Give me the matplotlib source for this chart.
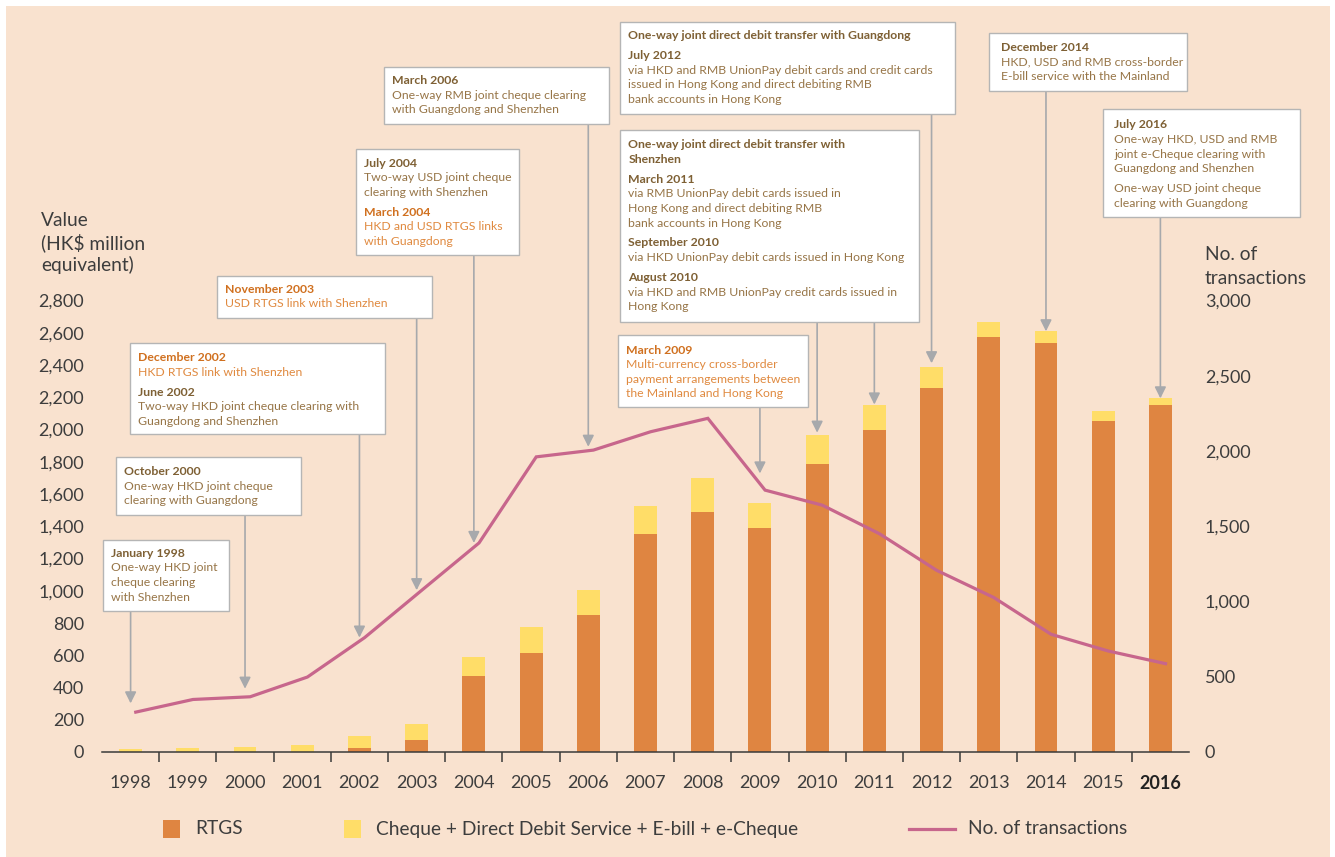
import matplotlib
matplotlib.use("Agg")
import matplotlib.pyplot as plt
from matplotlib.patches import Rectangle
from matplotlib.lines import Line2D
from matplotlib.transforms import blended_transform_factory
from matplotlib.ticker import FuncFormatter

# ---- data ----
YEARS = [str(y) for y in range(1998, 2017)]
RTGS = [0, 0, 0, 0, 25, 75, 472, 615, 851, 1354, 1491, 1391, 1789, 1994, 2255, 2571, 2534, 2050, 2155]
OTHER = [19, 27, 31, 43, 74, 99, 118, 161, 155, 174, 211, 156, 174, 161, 130, 94, 75, 62, 38]
TRANSACTIONS = [265, 349, 367, 498, 760, 1075, 1389, 1961, 2006, 2128, 2217, 1740, 1640, 1450,
                1207, 1026, 782, 671, 587]

LEGEND_LABELS = ["RTGS", "Cheque + Direct Debit Service + E-bill + e-Cheque", "No. of transactions"]

# milestone notes: (box in px: x0, y0, x1, y1), first line y, paragraphs of (style, text)
NOTES = [
    ((103, 540, 229, 611), 553.3, [[("hb", "January 1998"), ("b", "One-way HKD joint"),
                                    ("b", "cheque clearing"), ("b", "with Shenzhen")]]),
    ((116, 457, 300.5, 515), 471.7, [[("hb", "October 2000"), ("b", "One-way HKD joint cheque"),
                                      ("b", "clearing with Guangdong")]]),
    ((129.7, 342.7, 385.3, 434.3), 357.7, [[("ho", "December 2002"), ("o", "HKD RTGS link with Shenzhen")],
                                           [("hb", "June 2002"), ("b", "Two-way HKD joint cheque clearing with"),
                                            ("b", "Guangdong and Shenzhen")]]),
    ((216.7, 276, 431.8, 318.3), 289.3, [[("ho", "November 2003"), ("o", "USD RTGS link with Shenzhen")]]),
    ((356, 149, 519, 255), 163.3, [[("hb", "July 2004"), ("b", "Two-way USD joint cheque"),
                                    ("b", "clearing with Shenzhen")],
                                   [("ho", "March 2004"), ("o", "HKD and USD RTGS links"),
                                    ("o", "with Guangdong")]]),
    ((383.7, 66.7, 608.5, 124), 80.7, [[("hb", "March 2006"), ("b", "One-way RMB joint cheque clearing"),
                                        ("b", "with Guangdong and Shenzhen")]]),
    ((620, 21.7, 955, 114), 35.7, [[("hb", "One-way joint direct debit transfer with Guangdong")],
                                   [("hb", "July 2012"),
                                    ("b", "via HKD and RMB UnionPay debit cards and credit cards"),
                                    ("b", "issued in Hong Kong and direct debiting RMB"),
                                    ("b", "bank accounts in Hong Kong")]]),
    ((620, 130, 919, 321.7), 145, [[("hb", "One-way joint direct debit transfer with"), ("hb", "Shenzhen")],
                                   [("hb", "March 2011"), ("b", "via RMB UnionPay debit cards issued in"),
                                    ("b", "Hong Kong and direct debiting RMB"),
                                    ("b", "bank accounts in Hong Kong")],
                                   [("hb", "September 2010"),
                                    ("b", "via HKD UnionPay debit cards issued in Hong Kong")],
                                   [("hb", "August 2010"),
                                    ("b", "via HKD and RMB UnionPay credit cards issued in"),
                                    ("b", "Hong Kong")]]),
    ((618.3, 335, 808.3, 407.3), 350, [[("ho", "March 2009"), ("o", "Multi-currency cross-border"),
                                        ("o", "payment arrangements between"),
                                        ("o", "the Mainland and Hong Kong")]]),
    ((989.3, 33.3, 1186.7, 91), 47.7, [[("hb", "December 2014"), ("b", "HKD, USD and RMB cross-border"),
                                        ("b", "E-bill service with the Mainland")]]),
    ((1102.7, 109.3, 1300, 217.3), 125, [[("hb", "July 2016"), ("b", "One-way HKD, USD and RMB"),
                                          ("b", "joint e-Cheque clearing with"),
                                          ("b", "Guangdong and Shenzhen")],
                                         [("b", "One-way USD joint cheque"),
                                          ("b", "clearing with Guangdong")]]),
]

# arrows: year index, what it points at, gap (pt), box bottom (px)
ARROWS = [(0, "line", 6.3, 611), (2, "line", 5.8, 515), (4, "line", 0, 434.3), (5, "line", 0, 318.3),
          (6, "line", 0, 255), (8, "line", 2.4, 124), (11, "line", 12, 407.3), (12, "bar", 2, 321.7),
          (13, "bar", 0, 321.7), (14, "bar", 3, 114), (16, "bar", 0, 91), (18, "bar", 0, 217.3)]

W, H = 1335, 857
BG = "#F9E2CF"
C_RTGS = "#DF8541"
C_OTHER = "#FFDD68"
C_LINE = "#C7668C"
C_ARROW = "#A7A9AC"
C_TEXT = "#3D3D3D"
STYLES = {
    "hb": dict(color="#7E6034", fontweight="bold"),
    "b": dict(color="#977547", fontweight="normal"),
    "ho": dict(color="#D0701F", fontweight="bold"),
    "o": dict(color="#E08A40", fontweight="normal"),
}
NOTE_SIZE = 8.85
LINE_STEP = 14.6
PARA_STEP = 19.8
TICK_SIZE = 13
TITLE_SIZE = 13.8


def fx(px):
    return px / W


def fy(py):
    return 1 - py / H


plt.rcParams["font.family"] = ["Lato", "DejaVu Sans"]

fig = plt.figure(figsize=(W / 100, H / 100), dpi=100, facecolor="white")
fig.add_artist(Rectangle((fx(6), fy(H)), fx(1330) - fx(6), fy(6) - fy(H),
                         transform=fig.transFigure, facecolor=BG, edgecolor="none", zorder=-5))

ax = fig.add_axes([fx(102), fy(752), fx(1189) - fx(102), fy(300.5) - fy(752)])
ax2 = ax.twinx()
for a in (ax, ax2):
    a.patch.set_visible(False)
    for s in a.spines.values():
        s.set_visible(False)
ax.spines["bottom"].set_visible(True)
ax.spines["bottom"].set_color("#3A3A3A")
ax.spines["bottom"].set_linewidth(1.1)

x = list(range(len(YEARS)))
ax.bar(x, RTGS, width=0.4, color=C_RTGS, zorder=2)
ax.bar(x, OTHER, width=0.4, bottom=RTGS, color=C_OTHER, zorder=2)
ax2.plot([i + 0.09 for i in x], TRANSACTIONS, color=C_LINE, lw=2.3, solid_joinstyle="miter")

ax.set_xlim(-0.5, 18.5)
ax.set_ylim(0, 2800)
ax2.set_ylim(0, 3000)

ax.set_xticks(x)
ax.set_xticklabels(YEARS)
ax.set_xticks([i + 0.5 for i in range(len(YEARS) - 1)], minor=True)
ax.tick_params(axis="x", which="major", length=0, pad=16.5, labelsize=TICK_SIZE, labelcolor=C_TEXT)
ax.tick_params(axis="x", which="minor", length=7.5, width=1.1, color="#3A3A3A", direction="out")
ax.get_xticklabels()[-1].set_fontweight("bold")
ax.get_xticklabels()[-1].set_color("#222222")

comma = FuncFormatter(lambda v, p: f"{int(v):,}")
ax.set_yticks(range(0, 2801, 200))
ax.yaxis.set_major_formatter(comma)
ax.tick_params(axis="y", length=0, pad=13, labelsize=TICK_SIZE, labelcolor=C_TEXT)
ax2.set_yticks(range(0, 3001, 500))
ax2.yaxis.set_major_formatter(comma)
ax2.tick_params(axis="y", length=0, pad=11.5, labelsize=TICK_SIZE, labelcolor=C_TEXT)

# axis titles
for txt, py in [("Value", 221), ("(HK$ million", 243), ("equivalent)", 265)]:
    fig.text(fx(41), fy(py), txt, fontsize=TITLE_SIZE, color=C_TEXT, va="center", ha="left")
for txt, py in [("No. of", 255), ("transactions", 278)]:
    fig.text(fx(1205), fy(py), txt, fontsize=TITLE_SIZE, color=C_TEXT, va="center", ha="left")

# arrows from note boxes down to the bars / line
totals = [r + o for r, o in zip(RTGS, OTHER)]
start_tr = blended_transform_factory(ax.transData, fig.transFigure)
for idx, target, gap, py in ARROWS:
    if target == "line":
        xy, xyc = (idx, TRANSACTIONS[idx]), ax2.transData
    else:
        xy, xyc = (idx, totals[idx]), ax.transData
    ax2.annotate("", xy=xy, xycoords=xyc, xytext=(idx, fy(py)), textcoords=start_tr,
                 annotation_clip=False,
                 arrowprops=dict(arrowstyle="-|>", color=C_ARROW, lw=1.2, shrinkA=0, shrinkB=gap,
                                 mutation_scale=17))

# note boxes
for (x0, y0, x1, y1), first_y, paras in NOTES:
    fig.add_artist(Rectangle((fx(x0), fy(y1)), fx(x1) - fx(x0), fy(y0) - fy(y1),
                             transform=fig.transFigure, facecolor="white", edgecolor="#B5B5B5",
                             lw=1.0, zorder=5))
    tx = x0 + (11.5 if x0 > 980 else 8.2)
    py = first_y
    for pi, para in enumerate(paras):
        if pi > 0:
            py += PARA_STEP - LINE_STEP
        for style, text in para:
            fig.text(fx(tx), fy(py), text, fontsize=NOTE_SIZE, va="center", ha="left",
                     zorder=6, **STYLES[style])
            py += LINE_STEP

# legend
fig.add_artist(Rectangle((fx(163), fy(838)), fx(180) - fx(163), fy(820) - fy(838),
                         transform=fig.transFigure, facecolor=C_RTGS, edgecolor="none"))
fig.add_artist(Rectangle((fx(344), fy(838)), fx(361) - fx(344), fy(820) - fy(838),
                         transform=fig.transFigure, facecolor=C_OTHER, edgecolor="none"))
fig.add_artist(Line2D([fx(909), fx(955)], [fy(829), fy(829)], transform=fig.transFigure,
                      color=C_LINE, lw=2.3))
for txt, px in zip(LEGEND_LABELS, [195, 376, 968]):
    fig.text(fx(px), fy(829), txt, fontsize=TITLE_SIZE, color=C_TEXT, va="center", ha="left")

fig.savefig("out.png", dpi=100, facecolor=fig.get_facecolor())
